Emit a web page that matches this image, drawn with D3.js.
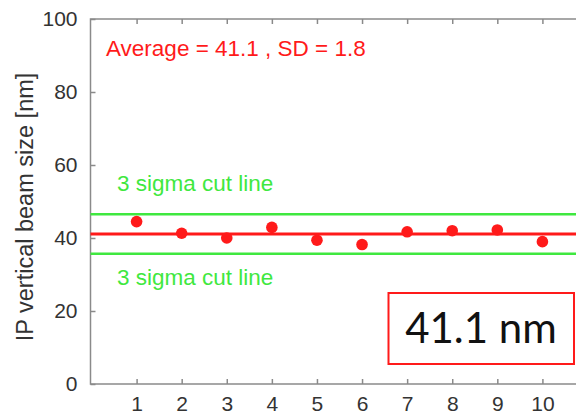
<!DOCTYPE html>
<html>
<head>
<meta charset="utf-8">
<script src="https://d3js.org/d3.v7.min.js"></script>
<style>
  body { margin: 0; background: #fff; }
  svg { display: block; }
</style>
</head>
<body>
<script>

  // measurement number and measured vertical beam size (nm)
  var shots = [1, 2, 3, 4, 5, 6, 7, 8, 9, 10];
  var beamSize = [44.5, 41.3, 40.0, 42.9, 39.4, 38.2, 41.7, 42.0, 42.2, 39.0];
  var average = 41.1;
  var sd = 1.8;
  var yTicks = [0, 20, 40, 60, 80, 100];

  var width = 576, height = 415;
  var plotLeft = 90.5, plotTop = 19, plotBottom = 384;

  var svg = d3.select("body").append("svg")
    .attr("width", width)
    .attr("height", height);

  var x = d3.scaleLinear().domain([0, 11]).range([91.5, 587.5]);
  var y = d3.scaleLinear().domain([0, 100]).range([plotBottom, plotTop]);

  var axisColor = "#8a8a8a";
  var labelColor = "#333";
  var labelFont = "Liberation Sans, Arial, sans-serif";

  // frame
  svg.append("path")
    .attr("d", "M" + (width + 5) + "," + plotTop + "H" + plotLeft + "V" + plotBottom + "H" + (width + 5))
    .attr("fill", "none")
    .attr("stroke", axisColor)
    .attr("stroke-width", 1.5);

  var yAxis = svg.append("g")
    .attr("transform", "translate(" + plotLeft + ",0)")
    .call(d3.axisLeft(y).tickValues(yTicks).tickSize(-5).tickPadding(13));

  var xAxis = svg.append("g")
    .attr("transform", "translate(0," + plotBottom + ")")
    .call(d3.axisBottom(x).tickValues(shots.concat([11])).tickSize(-5).tickPadding(12));

  var xTop = svg.append("g")
    .attr("transform", "translate(0," + plotTop + ")")
    .call(d3.axisTop(x).tickValues(shots.concat([11])).tickSize(-5).tickFormat(""));

  [yAxis, xAxis, xTop].forEach(function(g) {
    g.select(".domain").remove();
    g.selectAll("line").attr("stroke", axisColor).attr("stroke-width", 1.5);
    g.selectAll("text")
      .attr("fill", labelColor)
      .style("font-family", labelFont)
      .style("font-size", "21px");
  });
  xAxis.selectAll("text").filter(function(d) { return d === 11; }).remove();

  // y axis title
  svg.append("text")
    .attr("transform", "translate(33,207) rotate(-90)")
    .attr("text-anchor", "middle")
    .attr("fill", labelColor)
    .style("font-family", labelFont)
    .style("font-size", "23.5px")
    .text("IP vertical beam size [nm]");

  // average and 3 sigma cut lines
  var green = "#3fe83f", red = "#ff1a1a";
  [average + 3 * sd, average - 3 * sd].forEach(function(v) {
    svg.append("line")
      .attr("x1", plotLeft).attr("x2", width + 5)
      .attr("y1", y(v)).attr("y2", y(v))
      .attr("stroke", green)
      .attr("stroke-width", 2.5);
  });
  svg.append("line")
    .attr("x1", plotLeft).attr("x2", width + 5)
    .attr("y1", y(average)).attr("y2", y(average))
    .attr("stroke", red)
    .attr("stroke-width", 3);

  svg.selectAll("circle")
    .data(beamSize)
    .enter().append("circle")
    .attr("cx", function(d, i) { return x(shots[i]); })
    .attr("cy", function(d) { return y(d); })
    .attr("r", 5.8)
    .attr("fill", red);

  svg.append("text")
    .attr("x", 106).attr("y", 56)
    .attr("fill", red)
    .style("font-family", labelFont)
    .style("font-size", "22.5px")
    .text("Average = " + average + " , SD = " + sd);

  svg.append("text")
    .attr("x", 117).attr("y", 191)
    .attr("fill", green)
    .style("font-family", labelFont)
    .style("font-size", "22.5px")
    .text("3 sigma cut line");

  svg.append("text")
    .attr("x", 117).attr("y", 285)
    .attr("fill", green)
    .style("font-family", labelFont)
    .style("font-size", "22.5px")
    .text("3 sigma cut line");

  // result box
  svg.append("rect")
    .attr("x", 388.5).attr("y", 293)
    .attr("width", 185.5).attr("height", 71)
    .attr("fill", "#fff")
    .attr("stroke", red)
    .attr("stroke-width", 2);

  svg.append("text")
    .attr("x", 481).attr("y", 343)
    .attr("text-anchor", "middle")
    .attr("fill", "#111")
    .style("font-family", "Lato, sans-serif")
    .style("font-size", "42px")
    .text(average + " nm");

</script>
</body>
</html>
